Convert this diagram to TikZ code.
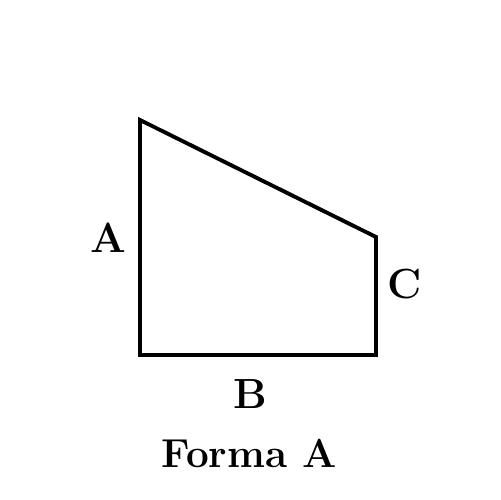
\documentclass[tikz,border=0pt]{standalone}
\usepackage{tikz}
\usetikzlibrary{positioning,calc}

\begin{document}
\begin{tikzpicture}[
						x=0.02cm, y=-0.02cm,
						edge/.style={draw=black, line width=2.2pt, line join=miter},
						lbl/.style={font=\fontsize{24}{24}\selectfont\bfseries, inner sep=0pt},
						title/.style={font=\fontsize{23}{23}\selectfont\bfseries, inner sep=0pt}
						]
						\useasboundingbox (0,0) rectangle (500,500);
						\coordinate (tl) at (140,120);
						\coordinate (bl) at (140,355);
						\coordinate (br) at (376,355);
						\coordinate (tr) at (376,237);
						\draw[edge] (tl) -- (bl) -- (br) -- (tr) -- cycle;
						\node[lbl] (a) at (108,238) {A};
						\node[lbl] (c) at (405,284) {C};
						\node[lbl] (b) at (250,394) {B};
						\node[title] (t) at (249,453) {Forma~A};
					\end{tikzpicture}
\end{document}
